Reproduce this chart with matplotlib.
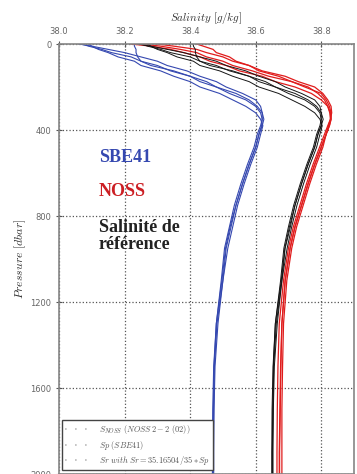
#!/usr/bin/env python3
import matplotlib
matplotlib.use("Agg")
import matplotlib.pyplot as plt
from matplotlib.lines import Line2D

# Pressure levels (dbar) shared by every profile
pres = [0, 10, 25, 40, 60, 80, 100, 125, 150, 175, 200, 230, 260, 290, 320,
        350, 380, 420, 480, 560, 650, 750, 850, 950, 1100, 1300, 1500, 1700,
        1900, 2000]

# Sp (SBE41) profiles
sp1 = [38.07, 38.09, 38.13, 38.16, 38.22, 38.25, 38.30, 38.34, 38.40, 38.43,
       38.48, 38.52, 38.57, 38.60, 38.615, 38.62, 38.618, 38.61, 38.60, 38.58,
       38.56, 38.54, 38.525, 38.51, 38.50, 38.482, 38.474, 38.472, 38.47, 38.47]
sp2 = [38.06, 38.10, 38.15, 38.20, 38.25, 38.30, 38.33, 38.39, 38.43, 38.48,
       38.51, 38.56, 38.60, 38.615, 38.62, 38.62, 38.615, 38.605, 38.595, 38.575,
       38.555, 38.535, 38.52, 38.505, 38.495, 38.48, 38.473, 38.471, 38.47, 38.47]
sp3 = [38.09, 38.10, 38.12, 38.15, 38.18, 38.23, 38.25, 38.31, 38.35, 38.40,
       38.43, 38.49, 38.53, 38.57, 38.60, 38.615, 38.622, 38.615, 38.605, 38.585,
       38.565, 38.545, 38.53, 38.515, 38.50, 38.485, 38.476, 38.473, 38.472, 38.472]
sp4 = [38.23, 38.23, 38.235, 38.235, 38.24, 38.25, 38.28, 38.35, 38.40, 38.45,
       38.48, 38.54, 38.58, 38.605, 38.62, 38.625, 38.62, 38.61, 38.60, 38.58,
       38.56, 38.54, 38.522, 38.508, 38.497, 38.48, 38.472, 38.469, 38.468, 38.468]

# Sr profiles (Sr = 35.16504/35 * Sp)
sr1 = [38.25, 38.27, 38.31, 38.34, 38.40, 38.43, 38.48, 38.52, 38.58, 38.61,
       38.66, 38.70, 38.75, 38.78, 38.796, 38.80, 38.80, 38.79, 38.78, 38.76,
       38.74, 38.72, 38.706, 38.69, 38.68, 38.663, 38.655, 38.653, 38.651, 38.651]
sr2 = [38.24, 38.28, 38.33, 38.38, 38.43, 38.48, 38.51, 38.57, 38.61, 38.66,
       38.69, 38.74, 38.78, 38.796, 38.80, 38.80, 38.796, 38.786, 38.776, 38.756,
       38.736, 38.716, 38.70, 38.686, 38.676, 38.66, 38.654, 38.652, 38.651, 38.651]
sr3 = [38.27, 38.28, 38.30, 38.33, 38.36, 38.41, 38.43, 38.49, 38.53, 38.58,
       38.61, 38.67, 38.71, 38.75, 38.78, 38.796, 38.803, 38.796, 38.786, 38.766,
       38.746, 38.726, 38.71, 38.696, 38.68, 38.666, 38.657, 38.654, 38.653, 38.653]
sr4 = [38.41, 38.41, 38.416, 38.416, 38.42, 38.43, 38.46, 38.53, 38.58, 38.63,
       38.66, 38.72, 38.76, 38.786, 38.80, 38.806, 38.80, 38.79, 38.78, 38.76,
       38.74, 38.72, 38.703, 38.689, 38.678, 38.66, 38.653, 38.65, 38.649, 38.649]

# S_NOSS profiles
sn1 = [38.25, 38.31, 38.37, 38.42, 38.45, 38.50, 38.53, 38.59, 38.64, 38.71,
       38.75, 38.80, 38.815, 38.825, 38.83, 38.83, 38.825, 38.815, 38.80, 38.78,
       38.76, 38.74, 38.72, 38.705, 38.69, 38.68, 38.677, 38.675, 38.673, 38.673]
sn2 = [38.22, 38.28, 38.34, 38.38, 38.43, 38.46, 38.51, 38.55, 38.62, 38.66,
       38.72, 38.77, 38.80, 38.82, 38.828, 38.83, 38.825, 38.815, 38.805, 38.785,
       38.765, 38.745, 38.725, 38.71, 38.695, 38.685, 38.682, 38.68, 38.68, 38.68]
sn3 = [38.30, 38.35, 38.42, 38.45, 38.50, 38.53, 38.58, 38.62, 38.69, 38.73,
       38.78, 38.805, 38.82, 38.83, 38.832, 38.828, 38.82, 38.81, 38.795, 38.775,
       38.755, 38.735, 38.715, 38.70, 38.685, 38.672, 38.668, 38.666, 38.665, 38.665]
sn4 = [38.42, 38.44, 38.47, 38.48, 38.52, 38.54, 38.58, 38.61, 38.67, 38.71,
       38.76, 38.79, 38.81, 38.82, 38.826, 38.828, 38.822, 38.815, 38.80, 38.78,
       38.76, 38.74, 38.72, 38.705, 38.69, 38.68, 38.676, 38.674, 38.672, 38.672]

xticks = [38.0, 38.2, 38.4, 38.6, 38.8]
yticks = [0, 400, 800, 1200, 1600, 2000]
legend_labels = [r"$S_{NOSS}\ (NOSS\,2-2\ (02))$",
                 r"$Sp\ (SBE41)$",
                 r"$Sr\ with\ Sr=35.16504/35*Sp$"]


def main():
    plt.rcParams['mathtext.fontset'] = 'cm'
    blue = '#3548b0'
    red = '#e01c1c'
    black = '#151515'

    fig = plt.figure(figsize=(3.57, 4.74), dpi=100)
    ax = fig.add_axes([59/357, 0.0, 295/357, 430/474])

    # Sp profiles
    for s in [sp1, sp2, sp3, sp4]:
        ax.plot(s, pres, color=blue, lw=0.8)
    # NOSS profiles, then Sr on top
    for s in [sn1, sn2, sn3, sn4]:
        ax.plot(s, pres, color=red, lw=0.9)
    for s in [sr1, sr2, sr3, sr4]:
        ax.plot(s, pres, color=black, lw=0.7)

    ax.set_xlim(38.0, 38.9)
    ax.set_ylim(2000, 0)
    ax.xaxis.tick_top()
    ax.set_xticks(xticks)
    ax.set_xticklabels(["{:.1f}".format(v) for v in xticks])
    ax.set_yticks(yticks)
    ax.tick_params(labelsize=6, labelcolor='#666666', color='#555555',
                   direction='inout', length=5, pad=3)
    ax.grid(True, color='#555555', linestyle=':', lw=0.9)
    for sp in ax.spines.values():
        sp.set_color('#858585')
        sp.set_linewidth(1.2)

    ax.set_ylabel(r"$Pressure\ [dbar]$", fontsize=8.5, color='#333333')
    ax.yaxis.set_label_coords(-0.105, 0.5)
    fig.text(206/357, 1 - 18/474, r"$Salinity\ [g/kg]$", fontsize=8,
             color='#333333', ha='center', va='center')

    # Annotations
    fig.text(99/357, 1 - 158/474, "SBE41", color=blue, fontsize=13,
             fontweight='bold', family='Liberation Serif', va='center')
    fig.text(99/357, 1 - 192/474, "NOSS", color='#cc1f24', fontsize=13,
             fontweight='bold', family='Liberation Serif', va='center')
    fig.text(99/357, 1 - 236/474, "Salinité de\nréférence", color='#222222',
             fontsize=13, fontweight='bold', family='Liberation Serif',
             va='center', linespacing=1.0)

    handles = [Line2D([], [], color='#bbbbbb', ls=(0, (1, 5)), lw=1.2)
               for _ in legend_labels]
    leg = ax.legend(handles, legend_labels, loc='lower left',
                    bbox_to_anchor=(0.01, 0.009), fontsize=6,
                    handlelength=3.2, handletextpad=0.9, labelspacing=0.3,
                    borderpad=0.35, fancybox=False, framealpha=1,
                    borderaxespad=0)
    leg.get_frame().set_edgecolor('#444444')
    leg.get_frame().set_linewidth(1.0)
    for t in leg.get_texts():
        t.set_color('#555555')

    fig.savefig("out.png", dpi=100, facecolor='white')


if __name__ == "__main__":
    main()
